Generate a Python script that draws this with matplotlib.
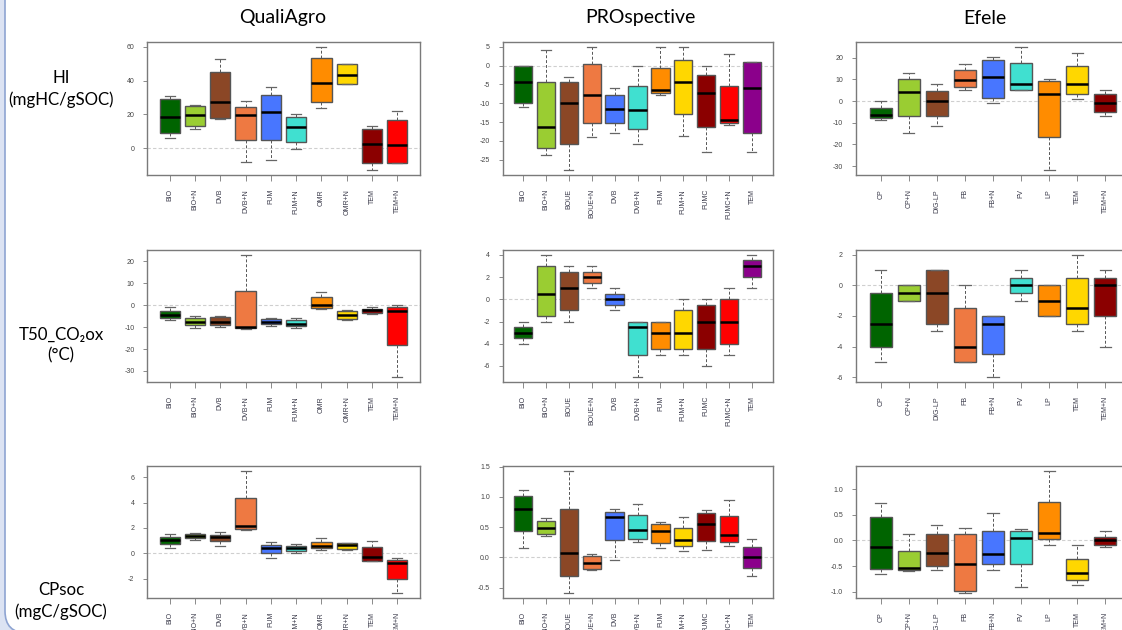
import numpy as np
import matplotlib
matplotlib.use("Agg")
import matplotlib.pyplot as plt
from matplotlib.patches import FancyBboxPatch
from matplotlib.ticker import MultipleLocator, FormatStrFormatter

plt.rcParams['axes.unicode_minus'] = False

# categories per site
cat_quali = ['BIO', 'BIO+N', 'DVB', 'DVB+N', 'FUM', 'FUM+N', 'OMR', 'OMR+N', 'TEM', 'TEM+N']
cat_pro = ['BIO', 'BIO+N', 'BOUE', 'BOUE+N', 'DVB', 'DVB+N', 'FUM', 'FUM+N', 'FUMC', 'FUMC+N', 'TEM']
cat_efele = ['CP', 'CP+N', 'DIG-LP', 'FB', 'FB+N', 'FV', 'LP', 'TEM', 'TEM+N']

col_quali = ['#006400', '#9ACD32', '#8B4726', '#EE7942', '#4876FF',
             '#40E0D0', '#FF8C00', '#FFD700', '#8B0000', '#FF0000']
col_pro = ['#006400', '#9ACD32', '#8B4726', '#EE7942', '#4876FF', '#40E0D0',
           '#FF8C00', '#FFD700', '#8B0000', '#FF0000', '#8B008B']
col_efele = ['#006400', '#9ACD32', '#8B4726', '#EE7942', '#4876FF',
             '#40E0D0', '#FF8C00', '#FFD700', '#8B0000']

# box stats: [whisker low, q1, median, q3, whisker high]
hi_quali = [[6, 8.7, 18.4, 29, 31], [11.5, 13, 19.5, 25, 25.5], [17, 17.6, 27.5, 45, 53],
            [-8, 5, 19.5, 24.5, 28], [-7, 4.7, 21.7, 31.4, 36], [-0.8, 3.4, 12.8, 18.4, 20.3],
            [24, 27.4, 38.5, 53.3, 60], [37.9, 37.9, 43.6, 49.7, 50], [-13, -9, 2.6, 11.4, 13],
            [-8.7, -8.7, 1.6, 16.6, 22]]
hi_pro = [[-10.9, -10, -4.45, 0, 0], [-23.8, -21.8, -16.4, -4.45, 4.2], [-27.8, -20.8, -10, -4.45, -2.9],
          [-18.9, -15.3, -7.9, 0.5, 5], [-17.9, -15.3, -11.4, -7.9, -6], [-20.8, -16.9, -11.9, -5.5, 0],
          [-7.9, -7.4, -6.4, -0.5, 5], [-18.8, -12.9, -4.45, 1.5, 5], [-22.9, -16.4, -7.4, -2.5, 0],
          [-15.8, -15.3, -14.4, -5.5, 3], [-22.9, -17.9, -6, 1, 1]]
hi_efele = [[-8.8, -7.8, -6.6, -3.2, 0], [-14.8, -6.9, 4, 10.2, 13.2], [-11.7, -6.9, 0, 4.9, 8],
            [5, 6.6, 9.7, 14.2, 17], [-0.9, 1.4, 11.1, 18.9, 20.2], [5, 5, 8, 17.8, 25],
            [-31.8, -16.5, 3.5, 9.1, 10.2], [0.9, 3.5, 8, 16.2, 22], [-6.8, -5.2, -0.9, 3.5, 5]]

t50_quali = [[-6.8, -5.8, -4.4, -2.6, -1], [-10.5, -9.2, -7.5, -5.8, -4.9], [-9.9, -9.2, -7.5, -5.4, -4.9],
             [-10.7, -10.4, -9.9, 6.3, 22.9], [-9.7, -8.8, -7.6, -6.5, -5.8], [-10.5, -9.6, -8.4, -6.8, -5.8],
             [-1.9, -1.5, 0, 3.6, 6], [-6.8, -6.2, -4.4, -2.6, -2.3], [-3.9, -3.7, -2.4, -1.6, -1],
             [-32.8, -18, -2.6, -1, 0]]
t50_pro = [[-4, -3.5, -3, -2.5, -2], [-2, -1.5, 0.5, 3, 4], [-2, -1, 1, 2.5, 3],
           [1, 1.5, 2, 2.5, 3], [-1, -0.5, 0, 0.5, 1], [-7, -5, -2.5, -2, -2],
           [-5, -4.5, -3, -2, -2], [-5, -4.5, -3, -1, 0], [-6, -4.5, -2, -0.5, 0],
           [-5, -4, -2, 0, 1], [1, 2, 3, 3.5, 4]]
t50_efele = [[-5, -4, -2.5, -0.5, 1], [-1, -1, -0.5, 0, 0], [-3, -2.5, -0.5, 1, 1],
             [-5, -5, -4, -1.5, 0], [-6, -4.5, -2.5, -2, -2], [-1, -0.5, 0, 0.5, 1],
             [-2, -2, -1, 0, 0], [-3, -2.5, -1.5, 0.5, 2], [-4, -2, 0, 0.5, 1]]

cp_quali = [[0.4, 0.77, 1.07, 1.3, 1.5], [1.07, 1.24, 1.38, 1.5, 1.57], [0.58, 0.94, 1.27, 1.43, 1.65],
            [1.82, 1.9, 2.12, 4.35, 6.5], [-0.36, 0, 0.39, 0.63, 0.88], [0, 0.19, 0.39, 0.58, 0.72],
            [0.28, 0.41, 0.6, 0.9, 1.2], [0.25, 0.33, 0.63, 0.83, 0.83], [-0.63, -0.63, -0.3, 0.47, 0.96],
            [-3.14, -2.04, -0.77, -0.5, -0.41]]
cp_pro = [[0.155, 0.43, 0.8, 1.01, 1.12], [0.35, 0.38, 0.49, 0.6, 0.65], [-0.59, -0.31, 0.08, 0.8, 1.43],
          [-0.21, -0.19, -0.09, 0.03, 0.063], [-0.046, 0.29, 0.67, 0.75, 0.8], [0.26, 0.31, 0.45, 0.7, 0.88],
          [0.155, 0.24, 0.43, 0.56, 0.59], [0.11, 0.19, 0.29, 0.48, 0.67], [0.13, 0.27, 0.56, 0.74, 0.78],
          [0.19, 0.26, 0.37, 0.68, 0.95], [-0.31, -0.17, 0.0, 0.18, 0.31]]
cp_efele = [[-0.66, -0.55, -0.13, 0.45, 0.74], [-0.6, -0.58, -0.53, -0.21, 0.12], [-0.58, -0.5, -0.24, 0.13, 0.31],
            [-1.03, -0.99, -0.47, 0.13, 0.25], [-0.58, -0.47, -0.26, 0.18, 0.53], [-0.92, -0.47, 0.04, 0.18, 0.23],
            [-0.08, 0.02, 0.14, 0.75, 1.36], [-0.88, -0.78, -0.64, -0.36, -0.08], [-0.12, -0.08, 0.0, 0.07, 0.18]]

site_titles = ['QualiAgro', 'PROspective', 'Efele']
row_labels = ['HI\n(mgHC/gSOC)', 'T50_CO\u2082ox\n(\u00b0C)', 'CPsoc\n(mgC/gSOC)']

# y tick step and label format for each panel
tick_step = [[20, 5, 10], [10, 2, 2], [2, 0.5, 0.5]]
tick_fmt = [['%d', '%d', '%d'], ['%d', '%d', '%d'], ['%d', '%.1f', '%.1f']]

sites = [(cat_quali, col_quali), (cat_pro, col_pro), (cat_efele, col_efele)]
grid = [[hi_quali, hi_pro, hi_efele],
        [t50_quali, t50_pro, t50_efele],
        [cp_quali, cp_pro, cp_efele]]

W, H = 1122, 630
fig = plt.figure(figsize=(W / 100, H / 100), dpi=100)
fig.patch.set_facecolor('#dce3f3')

# slide frame
frame = FancyBboxPatch((0.05, -0.03), 12.0, 7.0,
                       boxstyle='round,pad=0,rounding_size=0.22',
                       transform=fig.dpi_scale_trans, facecolor='white',
                       edgecolor='#8ea4d2', lw=1.2, zorder=0)
fig.add_artist(frame)

col_x = [(147, 420), (502.5, 772.5), (855.5, 1130.5)]
row_y = [(42, 175), (250, 382), (466, 598)]

for r in range(3):
    for c in range(3):
        cats, cols = sites[c]
        data = grid[r][c]
        x0, x1 = col_x[c]
        y0, y1 = row_y[r]
        ax = fig.add_axes([x0 / W, 1 - y1 / H, (x1 - x0) / W, (y1 - y0) / H])
        stats = []
        for name, s in zip(cats, data):
            stats.append({'whislo': s[0], 'q1': s[1], 'med': s[2],
                          'q3': s[3], 'whishi': s[4], 'label': name})
        n = len(cats)
        ax.axhline(0, color='#cfcfcf', lw=0.8, ls=(0, (3, 2)), zorder=0)
        bp = ax.bxp(stats, positions=np.arange(1, n + 1), widths=0.8,
                    capwidths=0.4, showfliers=False, patch_artist=True,
                    boxprops=dict(edgecolor='#555555', lw=1.0),
                    medianprops=dict(color='black', lw=1.8),
                    whiskerprops=dict(color='#555555', lw=0.7, ls=(0, (3, 2))),
                    capprops=dict(color='#666666', lw=0.9))
        for patch, fc in zip(bp['boxes'], cols):
            patch.set_facecolor(fc)

        lo = min(s[0] for s in data)
        hi = max(s[4] for s in data)
        pad = 0.04 * (hi - lo)
        ax.set_ylim(lo - pad, hi + pad)
        ax.set_xlim(0.1, n + 0.9)
        ax.yaxis.set_major_locator(MultipleLocator(tick_step[r][c]))
        ax.yaxis.set_major_formatter(FormatStrFormatter(tick_fmt[r][c]))

        ax.set_xticks(np.arange(1, n + 1))
        ax.set_xticklabels(cats, rotation=90, fontsize=5, color='#3a3a4a',
                           family='Liberation Sans')
        for lab in ax.get_yticklabels():
            lab.set_family('Liberation Sans')
        ax.tick_params(axis='y', labelsize=5, labelcolor='#444444',
                       color='#777777', length=3, width=0.6, pad=6)
        ax.tick_params(axis='x', color='#777777', length=4, width=0.6, pad=6)
        for sp in ax.spines.values():
            sp.set_color('#7a7a7a')
            sp.set_linewidth(1.0)

title_x = [283, 640, 985]
for c, t in enumerate(site_titles):
    fig.text(title_x[c] / W, 1 - 18 / H, t, ha='center', va='center', fontsize=14,
             family=['Lato', 'DejaVu Sans'], color='black')

row_centers = [89, 345, 601]
for r, t in enumerate(row_labels):
    fig.text(61 / W, 1 - row_centers[r] / H, t, ha='center', va='center',
             fontsize=12.2, family=['Lato', 'DejaVu Sans'], linespacing=1.4,
             color='black')

fig.savefig('out.png', dpi=100, facecolor=fig.get_facecolor())
